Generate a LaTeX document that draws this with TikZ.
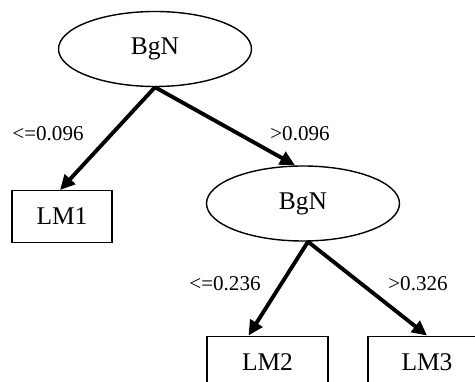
\documentclass[tikz,border=0pt]{standalone}
\usepackage{fontspec}
\setmainfont{Liberation Serif}
\usepackage{tikz}
\usetikzlibrary{shapes.geometric,arrows.meta}

\begin{document}
\begin{tikzpicture}[x=0.2mm, y=-0.2mm,
    split/.style={ellipse, draw, line width=0.8pt, minimum width=38.6mm,
      minimum height=15mm, inner sep=0pt, font=\fontsize{14.5}{16}\selectfont},
    leaf/.style={rectangle, draw, line width=0.8pt, minimum height=10.3mm,
      inner sep=0pt, font=\fontsize{14.5}{16}\selectfont},
    branch/.style={line width=2.2pt, -{Triangle[length=8.5pt,width=8pt]}},
    cond/.style={font=\fontsize{12}{14}\selectfont, inner sep=0pt}]
  \clip (0,0) rectangle (475,382);

  %% Split nodes
  \node[split] (root) at (155,49) {BgN};
  \node[split] (inner) at (303,203.5) {BgN};

  %% Leaf models (the lower two run off the page)
  \node[leaf, minimum width=20mm] (lm1) at (62,216.5) {LM1};
  \node[leaf, minimum width=24.2mm] (lm2) at (267.5,362) {LM2};
  \node[leaf, minimum width=23.6mm] (lm3) at (427,362) {LM3};

  %% Branches
  \draw[branch] (root.south) -- ([xshift=-0.4mm]lm1.north);
  \draw[branch] (root.south) -- ([xshift=-1.6mm]inner.north);
  \draw[branch] ([xshift=1mm]inner.south) -- ([xshift=-3.8mm]lm2.north);
  \draw[branch] ([xshift=1mm]inner.south) -- (lm3.north);

  %% Branch conditions
  \node[cond] (c1) at (48,134) {<=0.096};
  \node[cond] (c2) at (300,134) {>0.096};
  \node[cond] (c3) at (225,284) {<=0.236};
  \node[cond] (c4) at (418,284) {>0.326};
\end{tikzpicture}
\end{document}
